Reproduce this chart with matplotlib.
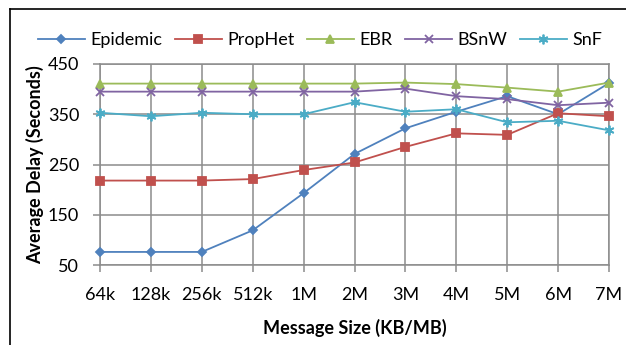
import numpy as np
import matplotlib
matplotlib.use("Agg")
import matplotlib.pyplot as plt
from matplotlib.lines import Line2D

sizes = ["64k", "128k", "256k", "512k", "1M", "2M", "3M", "4M", "5M", "6M", "7M"]
epidemic = [76, 76, 76, 119, 193, 271, 322, 355, 386, 350, 412]
prophet = [218, 218, 218, 221, 239, 254, 285, 312, 309, 352, 346]
ebr = [411, 411, 411, 411, 411, 411, 413, 410, 403, 395, 413]
bsnw = [395, 395, 395, 395, 395, 395, 401, 386, 380, 368, 373]
snf = [353, 346, 353, 350, 350, 374, 355, 360, 334, 337, 318]

plt.rcParams['font.family'] = ['Lato', 'DejaVu Sans']

fig = plt.figure(figsize=(6.26, 3.45), dpi=100)
W, H = 626.0, 345.0
ax = fig.add_axes([100 / W, (H - 265) / H, 509 / W, 201 / H])

x = np.arange(len(sizes))
grid_c = '#8c8c8c'
fs = 13
series = [
    ("Epidemic", epidemic, '#4F81BD', 'D', 4.5),
    ("PropHet", prophet, '#C0504D', 's', 6),
    ("EBR", ebr, '#9BBB59', '^', 6),
    ("BSnW", bsnw, '#8064A2', 'x', 5.5),
    ("SnF", snf, '#4BACC6', (6, 2, 0), 7),
]
for name, vals, c, m, ms in series:
    ax.plot(x, vals, color=c, marker=m, markersize=ms, lw=1.3, label=name,
            markeredgecolor=c, markeredgewidth=1.3, clip_on=False, zorder=3)

ax.set_xlim(0, 10)
ax.set_ylim(50, 450)
ax.set_xticks(x)
ax.set_xticklabels(sizes)
ax.set_yticks([50, 150, 250, 350, 450])
ax.grid(True, color=grid_c, lw=1.1)
for s in ax.spines.values():
    s.set_color(grid_c)
    s.set_linewidth(1.1)
ax.tick_params(axis='both', direction='out', length=5, width=1.1, color=grid_c,
               labelsize=fs, labelcolor='black')
ax.tick_params(axis='x', pad=11)
ax.tick_params(axis='y', pad=10)

ax.set_xlabel("Message Size (KB/MB)", fontsize=fs, fontweight='bold', labelpad=11)
ax.set_ylabel("Average Delay (Seconds)", fontsize=fs, fontweight='bold', labelpad=3)

fig.legend(loc='center', bbox_to_anchor=(320 / W, (H - 40) / H), ncol=5,
           frameon=False, fontsize=fs, handlelength=2.6, handletextpad=0.3,
           columnspacing=0.7)

# outer chart border
fig.add_artist(Line2D([10 / W, 1], [(H - 9) / H, (H - 9) / H], color='black', lw=1.2,
                      transform=fig.transFigure))
fig.add_artist(Line2D([10 / W, 10 / W], [0, (H - 9) / H], color='black', lw=1.2,
                      transform=fig.transFigure))

fig.savefig("out.png", dpi=100)
